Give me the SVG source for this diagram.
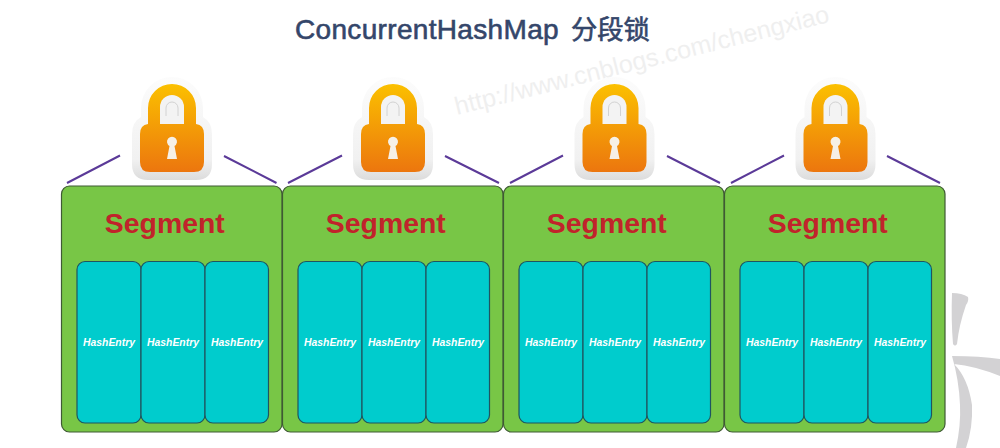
<svg xmlns="http://www.w3.org/2000/svg" width="1000" height="448" viewBox="0 0 1000 448">
<style>
.seg{fill:#78c646;stroke:#3f5a34;stroke-width:1.2}
.ent{fill:#00cccd;stroke:#1f5560;stroke-width:1.2}
.st{font-family:"Liberation Sans",Arial,sans-serif;font-weight:700;font-size:28.400px;fill:#c1232b;text-anchor:middle}
.et{font-family:"Liberation Sans",Arial,sans-serif;font-weight:700;font-style:italic;font-size:10.400px;fill:#fff;text-anchor:middle}
.ln{stroke:#5b3a98;stroke-width:2;fill:none}
</style>
<defs>
<linearGradient id="lg" x1="0" y1="84" x2="0" y2="172" gradientUnits="userSpaceOnUse"><stop offset="0" stop-color="#fbc000"/><stop offset="1" stop-color="#ec760e"/></linearGradient>
<linearGradient id="hg" x1="0" y1="77" x2="0" y2="180" gradientUnits="userSpaceOnUse"><stop offset="0" stop-color="#fcfcfc"/><stop offset="0.8" stop-color="#f1f1f1"/><stop offset="1" stop-color="#dcdcdc"/></linearGradient>
<g id="lock">
<path d="M141 117V108a31 31 0 0 1 62 0V117Q212 122 212 134V164Q212 180 196 180H148Q132 180 132 164V134Q132 122 141 117Z" fill="url(#hg)"/>
<path d="M148 124V108a24 24 0 0 1 48 0V124Q204 125 204 134V162Q204 172 194 172H150Q140 172 140 162V134Q140 125 148 124Z" fill="url(#lg)"/>
<path d="M160 124V107a12 12 0 0 1 24 0V124Z" fill="#f3f3f3"/>
<path d="M166 116V108a6 6 0 0 1 12 0V116" fill="none" stroke="#d2d2d2" stroke-width="1"/>
<path d="M169.500 146A5 5 0 1 1 174.500 146L177 159H167Z" fill="#f6f0e6"/>
</g>
</defs>
<rect width="1000" height="448" fill="#fff"/>
<g id="backdrop" fill="#d3d2d4">
<path d="M952 293Q962 293 968 297Q969 301 966 305Q959 325 957 344Q955 347 953 344Q951 320 952 293Z"/>
<path d="M952 356Q980 356 1000 359V376Q975 366 954 364Q968 378 972 405Q973 428 966 448H956Q961 425 960 405Q959 380 952 356Z"/>
</g>
<text id="watermark" x="457" y="115" transform="rotate(-14 457 115)" font-family="'Liberation Sans',Arial,sans-serif" font-size="25.100" fill="#efefef">http://www.cnblogs.com/chengxiao</text>
<text id="title" x="295" y="39" font-family="'Liberation Sans','Noto Sans CJK SC',sans-serif" font-size="28" letter-spacing="0.33" fill="#34466a" stroke="#34466a" stroke-width="0.6">ConcurrentHashMap <tspan x="571" font-size="26.300" letter-spacing="0">分段锁</tspan></text>
<g id="connectors" class="ln">
<path d="M67 183L120 155.500M224 156L276.500 183"/>
<path d="M288 183L342 155.500M445 156L499 183"/>
<path d="M510 183L563 155.500M667 156L720 183"/>
<path d="M731 183L784 155.500M887 156L940 183"/>
</g>
<g id="segment1"><use href="#lock"/><rect class="seg" x="61.500" y="186" width="220.500" height="246" rx="8"/><text class="st" x="164.800" y="233">Segment</text>
<rect class="ent" x="77" y="261.500" width="64" height="161.500" rx="8"/><rect class="ent" x="141" y="261.500" width="64" height="161.500" rx="8"/><rect class="ent" x="205" y="261.500" width="63.500" height="161.500" rx="8"/>
<text class="et" x="109" y="346">HashEntry</text><text class="et" x="173" y="346">HashEntry</text><text class="et" x="237" y="346">HashEntry</text></g>
<g id="segment2"><use href="#lock" x="221"/><rect class="seg" x="282.500" y="186" width="220.500" height="246" rx="8"/><text class="st" x="385.800" y="233">Segment</text>
<rect class="ent" x="298" y="261.500" width="64" height="161.500" rx="8"/><rect class="ent" x="362" y="261.500" width="64" height="161.500" rx="8"/><rect class="ent" x="426" y="261.500" width="63.500" height="161.500" rx="8"/>
<text class="et" x="330" y="346">HashEntry</text><text class="et" x="394" y="346">HashEntry</text><text class="et" x="458" y="346">HashEntry</text></g>
<g id="segment3"><use href="#lock" x="442.500"/><rect class="seg" x="503.500" y="186" width="220.500" height="246" rx="8"/><text class="st" x="606.800" y="233">Segment</text>
<rect class="ent" x="519" y="261.500" width="64" height="161.500" rx="8"/><rect class="ent" x="583" y="261.500" width="64" height="161.500" rx="8"/><rect class="ent" x="647" y="261.500" width="63.500" height="161.500" rx="8"/>
<text class="et" x="551" y="346">HashEntry</text><text class="et" x="615" y="346">HashEntry</text><text class="et" x="679" y="346">HashEntry</text></g>
<g id="segment4"><use href="#lock" x="663.500"/><rect class="seg" x="724.500" y="186" width="220.500" height="246" rx="8"/><text class="st" x="827.800" y="233">Segment</text>
<rect class="ent" x="740" y="261.500" width="64" height="161.500" rx="8"/><rect class="ent" x="804" y="261.500" width="64" height="161.500" rx="8"/><rect class="ent" x="868" y="261.500" width="63.500" height="161.500" rx="8"/>
<text class="et" x="772" y="346">HashEntry</text><text class="et" x="836" y="346">HashEntry</text><text class="et" x="900" y="346">HashEntry</text></g>
</svg>
